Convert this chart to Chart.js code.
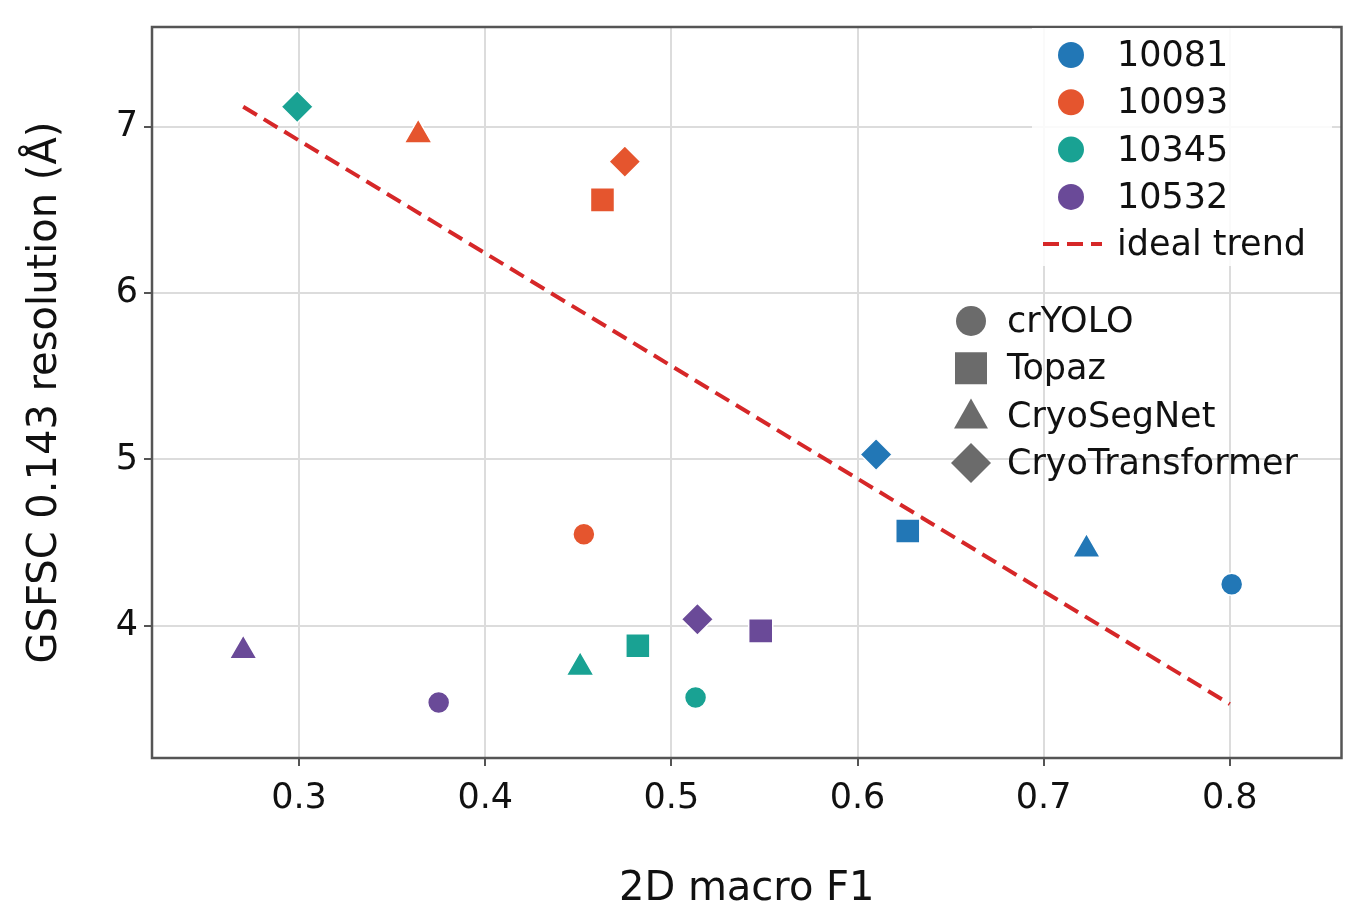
<!DOCTYPE html>
<html><head><meta charset="utf-8">
<script src="https://cdn.jsdelivr.net/npm/chart.js@4"></script>
<style>html,body{margin:0;padding:0;background:#fff}#c{display:block}</style>
</head><body>
<div style="width:1360px;height:918px"><canvas id="c" width="1360" height="918"></canvas></div>
<script>
const datasetsNames = ["10081","10093","10345","10532"];
const colors = ["#2277b6","#e5552e","#19a293","#6a4a98"];
const methods = ["crYOLO","Topaz","CryoSegNet","CryoTransformer"];
const styles = ["circle","rect","triangle","rectRot"];
const radii = [11,17,16,16];
// F1 per dataset, order: crYOLO, Topaz, CryoSegNet, CryoTransformer
const f1 = [
  [0.801,0.627,0.723,0.610],
  [0.453,0.463,0.364,0.475],
  [0.513,0.482,0.451,0.299],
  [0.375,0.548,0.270,0.514]
];
const res = [
  [4.25,4.57,4.46,5.03],
  [4.55,6.56,6.95,6.79],
  [3.57,3.88,3.75,7.12],
  [3.54,3.97,3.85,4.04]
];
const trendX = [0.27,0.80];
const trendY = [7.12,3.53];
const xTicks = [0.3,0.4,0.5,0.6,0.7,0.8];
const yTicks = [4,5,6,7];

const FONT = "'DejaVu Sans'";
const ds = [];
datasetsNames.forEach((n,i)=>{
  methods.forEach((m,j)=>{
    ds.push({label:n+" "+m,data:[{x:f1[i][j],y:res[i][j]}],pointStyle:styles[j],pointRadius:radii[j],
      backgroundColor:colors[i],borderColor:"#fff",borderWidth:1.5,showLine:false});
  });
});
ds.push({label:"ideal trend",data:trendX.map((x,k)=>({x,y:trendY[k]})),showLine:true,borderColor:"#d62728",
  borderWidth:4,borderDash:[16,8],pointRadius:0,fill:false});

const legendPlugin={id:"lg",afterDraw(ch){
  const c=ch.ctx,a=ch.chartArea;
  c.save();
  c.strokeStyle="#555";c.lineWidth=2.5;c.strokeRect(a.left,a.top,a.right-a.left,a.bottom-a.top);
  c.fillStyle="rgba(255,255,255,0.85)";c.fillRect(1032,28,300,238);
  c.font="35px "+FONT;c.textBaseline="middle";
  datasetsNames.forEach((n,i)=>{const y=55+i*47.3;
    c.beginPath();c.arc(1071,y,13,0,Math.PI*2);c.fillStyle=colors[i];c.fill();
    c.fillStyle="#111";c.fillText(n,1117,y+2);});
  c.strokeStyle="#d62728";c.lineWidth=4;c.setLineDash([16,8]);
  c.beginPath();c.moveTo(1043,244);c.lineTo(1102,244);c.stroke();c.setLineDash([]);
  c.fillStyle="#111";c.fillText("ideal trend",1117,246);
  methods.forEach((m,j)=>{const y=321+j*47.3,x=971;c.fillStyle="#6b6b6b";c.beginPath();
    if(j==0)c.arc(x,y,15,0,Math.PI*2);
    else if(j==1)c.rect(x-16,y-16,32,32);
    else if(j==2){c.moveTo(x,y-17);c.lineTo(x+17,y+13);c.lineTo(x-17,y+13);c.closePath();}
    else{c.moveTo(x,y-20);c.lineTo(x+20,y);c.lineTo(x,y+20);c.lineTo(x-20,y);c.closePath();}
    c.fill();c.fillStyle="#111";c.fillText(m,1007,y+2);});
  c.restore();
}};

new Chart(document.getElementById("c"),{type:"scatter",data:{datasets:ds},
  options:{responsive:false,animation:false,
    layout:{padding:{top:9,right:17,left:18,bottom:0}},
    plugins:{legend:{display:false},tooltip:{enabled:false}},
    scales:{
      x:{type:"linear",min:0.221,max:0.860,afterFit:s=>{s.height=160},
        afterBuildTicks:s=>{s.ticks=xTicks.map(v=>({value:v}))},
        grid:{color:"#dcdcdc",lineWidth:2,tickLength:8,tickColor:"#555"},border:{display:false},
        ticks:{color:"#111",font:{family:FONT,size:35},padding:12,callback:v=>v.toFixed(1)},
        title:{display:true,text:"2D macro F1",color:"#111",font:{family:FONT,size:40},padding:{top:6}}},
      y:{type:"linear",min:3.206,max:7.599,afterFit:s=>{s.width=134},
        afterBuildTicks:s=>{s.ticks=yTicks.map(v=>({value:v}))},
        grid:{color:"#dcdcdc",lineWidth:2,tickLength:8,tickColor:"#555"},border:{display:false},
        ticks:{color:"#111",font:{family:FONT,size:35},padding:6,callback:v=>String(v)},
        title:{display:true,text:"GSFSC 0.143 resolution (Å)",color:"#111",font:{family:FONT,size:40},padding:{bottom:4}}}
    }},plugins:[legendPlugin]});
</script></body></html>
